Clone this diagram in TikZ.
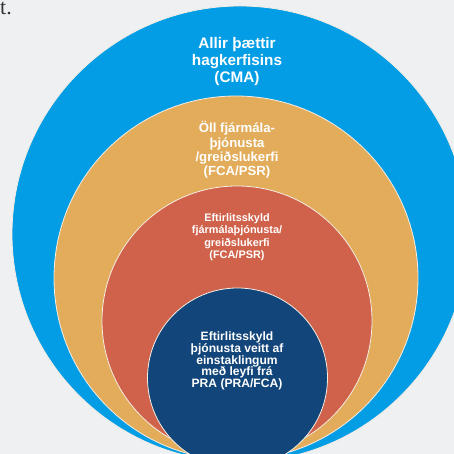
\documentclass[tikz,border=0pt]{standalone}
\usepackage{fontspec}
\setmainfont{Liberation Sans}
\newfontfamily\serifface{Liberation Serif}
\definecolor{bg}{HTML}{EFF0F2}
\definecolor{cblue}{HTML}{039DE5}
\definecolor{corange}{HTML}{E2AC5B}
\definecolor{cred}{HTML}{D0614A}
\definecolor{cnavy}{HTML}{124579}
\definecolor{rim}{HTML}{F4EEE4}
\begin{document}
\begin{tikzpicture}[x=1pt,y=1pt,
  ring/.style={circle, draw=rim, line width=0.8pt, inner sep=0pt, minimum size=#1},
  lbl/.style={text=white, align=center, inner sep=0pt}]
\useasboundingbox (0,0) rectangle (454,454);
\clip (0,0) rectangle (454,454);
\fill[bg] (0,0) rectangle (454,454);
\node[ring=456pt, fill=cblue] (blue) at (240,220) {};
\node[ring=364pt, fill=corange] (orange) at (236,176) {};
\node[ring=270pt, fill=cred] (red) at (237,133) {};
\node[ring=180pt, fill=cnavy] (navy) at (237.5,76) {};
\node[lbl, font=\bfseries\fontsize{15.3}{17}\selectfont] (tblue) at (237,392) {Allir þættir\\hagkerfisins\\(CMA)};
\node[lbl, font=\bfseries\fontsize{13.2}{14.4}\selectfont] (torange) at (237,304) {Öll fjármála-\\þjónusta\\/greiðslukerfi\\(FCA/PSR)};
\node[lbl, font=\bfseries\fontsize{10.9}{12.5}\selectfont] (tred) at (237,217) {Eftirlitsskyld\\fjármálaþjónusta/\\greiðslukerfi\\(FCA/PSR)};
\node[lbl, font=\bfseries\fontsize{12.1}{11.7}\selectfont] (tnavy) at (237,93) {Eftirlitsskyld\\þjónusta veitt af\\einstaklingum\\með leyfi frá\\PRA (PRA/FCA)};
\node[anchor=base east, inner sep=0pt, text=black!80, font=\serifface\fontsize{22}{22}\selectfont] (cut) at (12,439) {t.};
\end{tikzpicture}
\end{document}
